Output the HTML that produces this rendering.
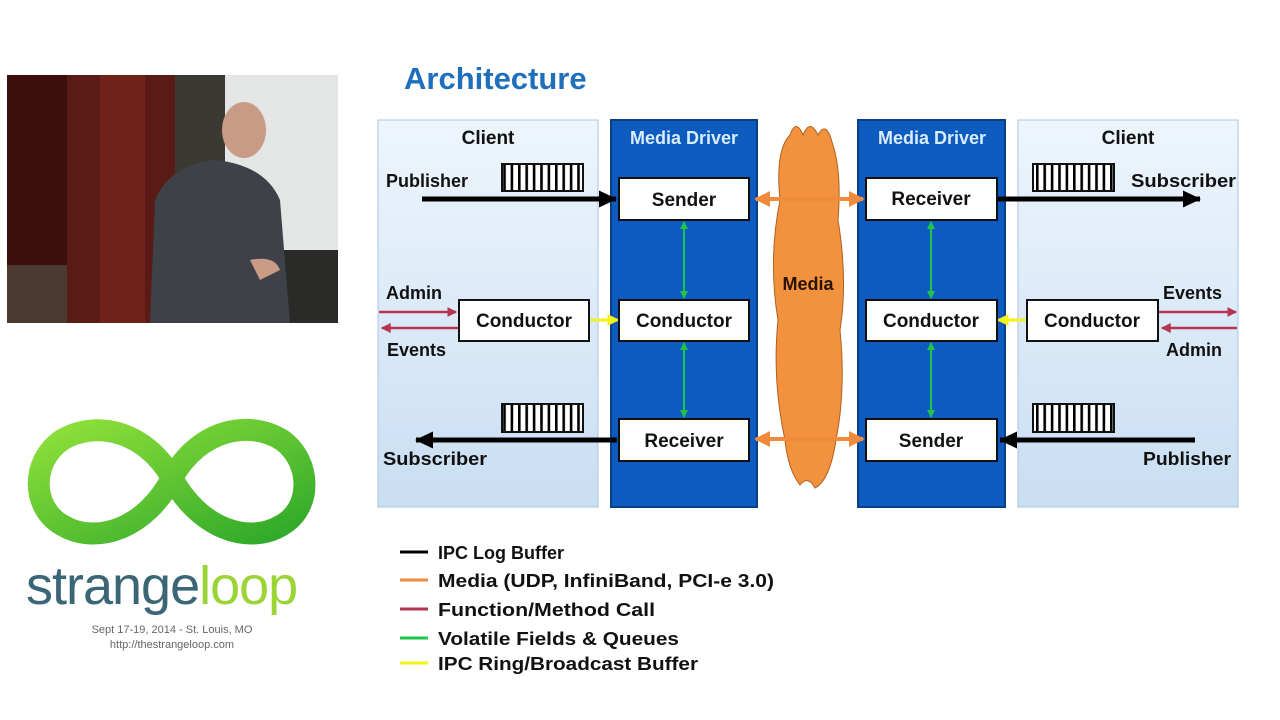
<!DOCTYPE html>
<html><head><meta charset="utf-8"><style>
html,body{margin:0;padding:0;background:#fff;}
svg{display:block;}
text{font-family:"Liberation Sans",sans-serif;font-weight:bold;}
</style></head><body>
<svg width="1280" height="720" viewBox="0 0 1280 720" xmlns="http://www.w3.org/2000/svg">
<defs>
<linearGradient id="cl" x1="0" y1="0" x2="0" y2="1"><stop offset="0" stop-color="#eef5fc"/><stop offset="1" stop-color="#c9def3"/></linearGradient>
<linearGradient id="gr" x1="0" y1="0" x2="1" y2="1"><stop offset="0" stop-color="#8fe03a"/><stop offset="1" stop-color="#2fa82a"/></linearGradient>
<marker id="ab" markerWidth="3.6" markerHeight="3.4" refX="3.4" refY="1.7" orient="auto" markerUnits="strokeWidth"><path d="M0,0L3.6,1.7L0,3.4z" fill="#000"/></marker>
<marker id="ao" markerWidth="4" markerHeight="4" refX="3.5" refY="2" orient="auto-start-reverse" markerUnits="strokeWidth"><path d="M0,0L4,2L0,4z" fill="#f08a3c"/></marker>
<marker id="ag" markerWidth="4" markerHeight="4" refX="3.5" refY="2" orient="auto-start-reverse" markerUnits="strokeWidth"><path d="M0,0L4,2L0,4z" fill="#1fc44a"/></marker>
<marker id="ay" markerWidth="4" markerHeight="4" refX="3.5" refY="2" orient="auto-start-reverse" markerUnits="strokeWidth"><path d="M0,0L4,2L0,4z" fill="#f4f21a"/></marker>
<marker id="ar" markerWidth="4" markerHeight="4" refX="3.5" refY="2" orient="auto" markerUnits="strokeWidth"><path d="M0,0L4,2L0,4z" fill="#b5354f"/></marker>
<pattern id="buf" x="0" y="0" width="7.4" height="30" patternUnits="userSpaceOnUse"><rect width="7.4" height="30" fill="#fff"/><rect x="0" width="2.6" height="30" fill="#000"/></pattern>
</defs>

<!-- webcam -->
<rect x="7" y="75" width="331" height="248" fill="#5a1a16"/>
<rect x="7" y="75" width="60" height="248" fill="#3c0f0c"/>
<rect x="100" y="75" width="45" height="248" fill="#6e2219"/>
<rect x="175" y="75" width="50" height="248" fill="#3a3a32"/>
<rect x="225" y="75" width="113" height="175" fill="#e4e6e6"/>
<rect x="225" y="250" width="113" height="73" fill="#2a2a28"/>
<rect x="7" y="265" width="60" height="58" fill="#4a3a30"/>
<ellipse cx="244" cy="130" rx="22" ry="28" fill="#c99a86"/>
<path d="M150,323 L155,200 Q170,165 215,160 Q265,165 280,200 L290,323 Z" fill="#3e4248"/>
<path d="M250,260 Q275,255 280,270 L260,280 Z" fill="#c99a86"/>

<!-- logo -->
<g fill="none" stroke="url(#gr)" stroke-width="22">
<path d="M172,478 C145,430 95,420 62,440 C30,462 32,508 62,525 C95,545 145,530 172,478 C200,428 250,420 282,440 C312,462 312,508 282,525 C250,545 200,530 172,478 Z"/>
</g>
<text x="26" y="604" font-size="54" fill="#3b6676" style="font-weight:normal;letter-spacing:-1px">strange<tspan fill="#9bd435">loop</tspan></text>
<text x="172" y="633" font-size="11" text-anchor="middle" fill="#666" style="font-weight:normal">Sept 17-19, 2014  -  St. Louis, MO</text>
<text x="172" y="648" font-size="11" text-anchor="middle" fill="#666" style="font-weight:normal">http://thestrangeloop.com</text>

<!-- slide -->
<text x="404" y="89" font-size="31" fill="#1f6fbd">Architecture</text>

<rect x="378" y="120" width="220" height="387" fill="url(#cl)" stroke="#a9c6e3"/>
<rect x="1018" y="120" width="220" height="387" fill="url(#cl)" stroke="#a9c6e3"/>
<rect x="611" y="120" width="146" height="387" fill="#0d5bbf" stroke="#0a3f8a" stroke-width="2"/>
<rect x="858" y="120" width="147" height="387" fill="#0d5bbf" stroke="#0a3f8a" stroke-width="2"/>

<text x="488" y="144" font-size="19" text-anchor="middle" fill="#111">Client</text>
<text x="1128" y="144" font-size="19" text-anchor="middle" fill="#111">Client</text>
<text x="684" y="144" font-size="18" text-anchor="middle" fill="#d8ecff">Media Driver</text>
<text x="932" y="144" font-size="18" text-anchor="middle" fill="#d8ecff">Media Driver</text>

<!-- cloud -->
<path d="M790,135 Q796,118 803,135 Q810,118 818,135 Q826,120 832,142 Q842,170 838,220 Q848,280 840,330 Q846,390 836,440 Q830,480 815,488 Q808,475 800,485 Q788,470 785,440 Q772,380 778,320 Q768,260 780,200 Q775,150 790,135 Z" fill="#f2923e" stroke="#b0601f"/>
<text x="808" y="290" font-size="18" text-anchor="middle" fill="#2a1200">Media</text>

<g stroke="#f08a3c" stroke-width="4">
<line x1="756" y1="199" x2="863" y2="199" marker-start="url(#ao)" marker-end="url(#ao)"/>
<line x1="756" y1="439" x2="863" y2="439" marker-start="url(#ao)" marker-end="url(#ao)"/>
</g>
<g stroke="#1fc44a" stroke-width="2">
<line x1="684" y1="222" x2="684" y2="298" marker-start="url(#ag)" marker-end="url(#ag)"/>
<line x1="684" y1="343" x2="684" y2="417" marker-start="url(#ag)" marker-end="url(#ag)"/>
<line x1="931" y1="222" x2="931" y2="298" marker-start="url(#ag)" marker-end="url(#ag)"/>
<line x1="931" y1="343" x2="931" y2="417" marker-start="url(#ag)" marker-end="url(#ag)"/>
</g>
<g stroke="#f4f21a" stroke-width="3">
<line x1="590" y1="320" x2="618" y2="320" marker-end="url(#ay)"/>
<line x1="1026" y1="320" x2="998" y2="320" marker-end="url(#ay)"/>
</g>
<g stroke="#b5354f" stroke-width="2.5">
<line x1="379" y1="312" x2="456" y2="312" marker-end="url(#ar)"/>
<line x1="458" y1="328" x2="382" y2="328" marker-end="url(#ar)"/>
<line x1="1159" y1="312" x2="1236" y2="312" marker-end="url(#ar)"/>
<line x1="1237" y1="328" x2="1162" y2="328" marker-end="url(#ar)"/>
</g>
<g stroke="#000" stroke-width="5">
<line x1="422" y1="199" x2="616" y2="199" marker-end="url(#ab)"/>
<line x1="998" y1="199" x2="1200" y2="199" marker-end="url(#ab)"/>
<line x1="617" y1="440" x2="416" y2="440" marker-end="url(#ab)"/>
<line x1="1195" y1="440" x2="1000" y2="440" marker-end="url(#ab)"/>
</g>

<g fill="#fff" stroke="#111" stroke-width="2">
<rect x="619" y="178" width="130" height="42"/>
<rect x="619" y="300" width="130" height="41"/>
<rect x="619" y="419" width="130" height="42"/>
<rect x="866" y="178" width="131" height="42"/>
<rect x="866" y="300" width="131" height="41"/>
<rect x="866" y="419" width="131" height="42"/>
<rect x="459" y="300" width="130" height="41"/>
<rect x="1027" y="300" width="131" height="41"/>
</g>
<g font-size="19" text-anchor="middle" fill="#111">
<text x="684" y="206">Sender</text>
<text x="684" y="327">Conductor</text>
<text x="684" y="447">Receiver</text>
<text x="931" y="205">Receiver</text>
<text x="931" y="327">Conductor</text>
<text x="931" y="447">Sender</text>
<text x="524" y="327">Conductor</text>
<text x="1092" y="327">Conductor</text>
</g>
<g stroke="#111" stroke-width="2">
<rect x="502" y="164" width="81" height="27" fill="url(#buf)"/>
<rect x="1033" y="164" width="81" height="27" fill="url(#buf)"/>
<rect x="502" y="404" width="81" height="28" fill="url(#buf)"/>
<rect x="1033" y="404" width="81" height="28" fill="url(#buf)"/>
</g>
<g font-size="18" fill="#111">
<text x="386" y="187">Publisher</text>
<text x="386" y="299">Admin</text>
<text x="387" y="356">Events</text>
<text x="383" y="465" textLength="104" lengthAdjust="spacingAndGlyphs">Subscriber</text>
<text x="1131" y="187" textLength="105" lengthAdjust="spacingAndGlyphs">Subscriber</text>
<text x="1163" y="299">Events</text>
<text x="1166" y="356">Admin</text>
<text x="1143" y="465" textLength="88" lengthAdjust="spacingAndGlyphs">Publisher</text>
</g>

<g stroke-width="3">
<line x1="400" y1="552" x2="428" y2="552" stroke="#000"/>
<line x1="400" y1="580" x2="428" y2="580" stroke="#f08a3c"/>
<line x1="400" y1="609" x2="428" y2="609" stroke="#b5354f"/>
<line x1="400" y1="638" x2="428" y2="638" stroke="#1fc44a"/>
<line x1="400" y1="663" x2="428" y2="663" stroke="#f4f21a"/>
</g>
<g font-size="18" fill="#111">
<text x="438" y="559">IPC Log Buffer</text>
<text x="438" y="587" textLength="336" lengthAdjust="spacingAndGlyphs">Media (UDP, InfiniBand, PCI-e 3.0)</text>
<text x="438" y="616" textLength="217" lengthAdjust="spacingAndGlyphs">Function/Method Call</text>
<text x="438" y="645" textLength="241" lengthAdjust="spacingAndGlyphs">Volatile Fields &amp; Queues</text>
<text x="438" y="670" textLength="260" lengthAdjust="spacingAndGlyphs">IPC Ring/Broadcast  Buffer</text>
</g>
</svg>
</body></html>
